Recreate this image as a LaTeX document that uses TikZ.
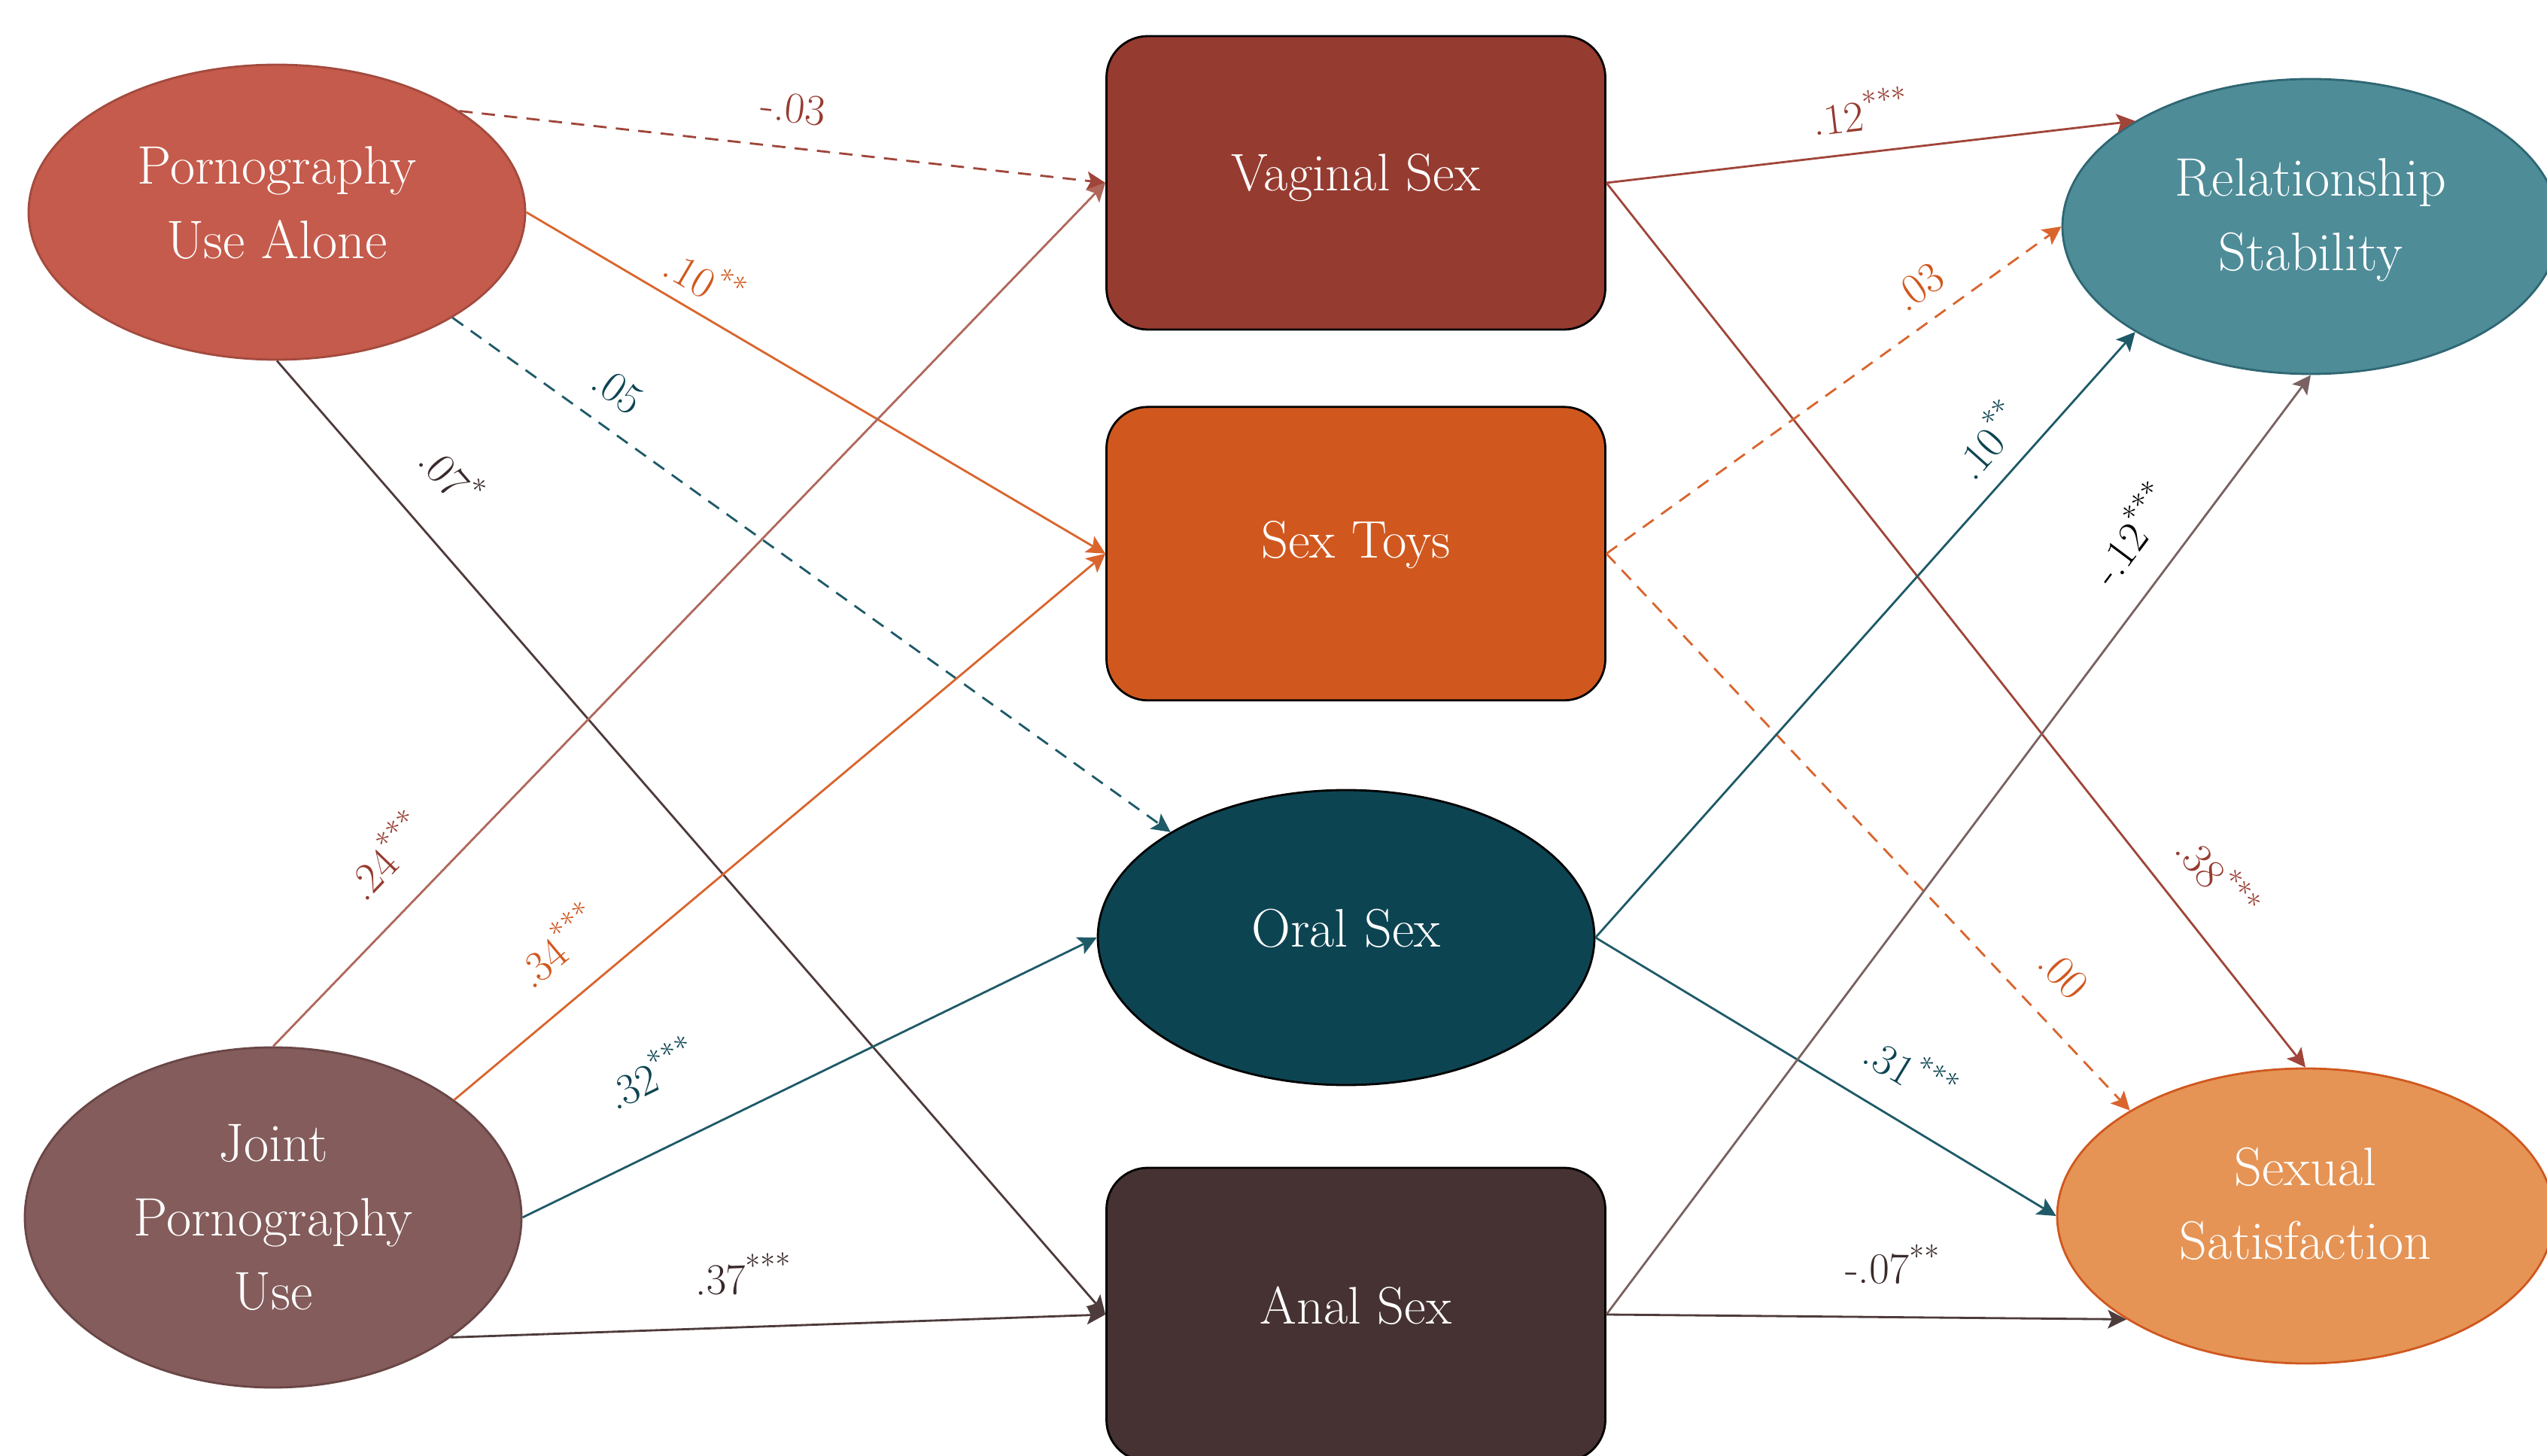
\documentclass[tikz,border=0pt]{standalone}
\usepackage{tikz}
\usepackage{color}
\usetikzlibrary{shapes.geometric,positioning,arrows.meta}

\definecolor{puaFill}{HTML}{C55B4C}
\definecolor{puaLine}{HTML}{A34A3E}
\definecolor{jointFill}{HTML}{845C5C}
\definecolor{jointLine}{HTML}{6A4646}
\definecolor{vagFill}{HTML}{963B30}
\definecolor{toysFill}{HTML}{D0581F}
\definecolor{oralFill}{HTML}{0D4452}
\definecolor{analFill}{HTML}{463232}
\definecolor{relFill}{HTML}{4E8C98}
\definecolor{relLine}{HTML}{2F6773}
\definecolor{satFill}{HTML}{E59455}
\definecolor{satLine}{HTML}{D0581F}
\definecolor{rustLine}{HTML}{A04539}
\definecolor{rustLight}{HTML}{B0675C}
\definecolor{orangeLine}{HTML}{D9652D}
\definecolor{tealLine}{HTML}{1E5A68}
\definecolor{brownLine}{HTML}{4E3B3B}
\definecolor{brownLight}{HTML}{7A6262}
\definecolor{coefDark}{HTML}{3A2A2A}

\begin{document}
\begin{tikzpicture}[->,>={Stealth[length=7pt,width=7pt,inset=1.5pt]},line width=0.8pt,
var/.style={ellipse,draw,text=white,align=center,inner sep=0pt,minimum width=6.6cm,
minimum height=3.92cm,font=\fontsize{20.5}{28}\selectfont},
act/.style={draw=black,rounded corners=0.55cm,text=white,inner sep=0pt,minimum width=6.63cm,
minimum height=3.9cm,font=\fontsize{20}{28}\selectfont},
coef/.style={sloped,inner sep=0pt,font=\fontsize{16.5}{18}\selectfont},
dsh/.style={dash pattern=on 5pt off 3.5pt},]
\useasboundingbox (0,0) rectangle (33.85,-19.35);
\node[var,fill=puaFill,draw=puaLine,text depth=7.5pt](pua) at (3.68,-2.82){Pornography\\Use Alone};
\node[var,fill=jointFill,draw=jointLine,minimum height=4.52cm](joint) at (3.63,-16.18){Joint\\Pornography\\Use};
\node[act,fill=vagFill,text depth=8pt](vag) at (18.02,-2.43){Vaginal Sex};
\node[act,fill=toysFill,below=1cm of vag,text depth=11pt](toys){Sex Toys};
\node[var,fill=oralFill,draw=black,text depth=7pt](oral) at (17.89,-12.46){Oral Sex};
\node[act,fill=analFill,text depth=7pt](anal) at (18.02,-17.47){Anal Sex};
\node[var,fill=relFill,draw=relLine,text depth=9pt](rel) at (30.71,-3.01){Relationship\\Stability};
\node[var,fill=satFill,draw=satLine,text depth=9.5pt](sat) at (30.64,-16.16){Sexual\\Satisfaction};

\path (pua.29) edge[rustLine,dsh] node[coef,above=9pt,pos=.51,text=vagFill]{-.03} (vag.west)
      (pua.east) edge[orangeLine] node[coef,above=5pt,pos=.28,text=toysFill]{.10\textsuperscript{**}} (toys.west)
      (pua.-31) edge[tealLine,dsh] node[coef,above=8pt,pos=.2,text=oralFill]{.05} (oral.149)
      (pua.south) edge[brownLine] node[coef,above=14pt,pos=.16,text=coefDark]{.07\textsuperscript{*}} (anal.west)
      (joint.north) edge[rustLight] node[coef,above=12pt,pos=.18,text=vagFill]{.24\textsuperscript{***}} (vag.west)
      (joint.33.5) edge[orangeLine] node[coef,above=12pt,pos=.21,text=toysFill]{.34\textsuperscript{***}} (toys.west)
      (joint.east) edge[tealLine] node[coef,above=20pt,pos=.28,text=oralFill]{.32\textsuperscript{***}} (oral.west)
      (joint.-34) edge[brownLine] node[coef,above=12pt,pos=.45,text=coefDark]{.37\textsuperscript{***}} (anal.west)
      (vag.east) edge[rustLine] node[coef,above=8pt,pos=.49,text=vagFill]{.12\textsuperscript{***}} (rel.149)
      (vag.east) edge[rustLine] node[coef,above=11pt,pos=.82,text=vagFill]{.38\textsuperscript{***}} (sat.north)
      (toys.east) edge[orangeLine,dsh] node[coef,above=7pt,pos=.73,text=toysFill]{.03} (rel.west)
      (toys.east) edge[orangeLine,dsh] node[coef,above=11pt,pos=.81,text=toysFill]{.00} (sat.149)
      (oral.east) edge[tealLine] node[coef,above=7pt,pos=.78,text=oralFill]{.10\textsuperscript{**}} (rel.211)
      (oral.east) edge[tealLine] node[coef,above=11pt,pos=.63,text=oralFill]{.31\textsuperscript{***}} (sat.west)
      (anal.east) edge[brownLight] node[coef,above=11pt,pos=.8,text=black]{-.12\textsuperscript{***}} (rel.south)
      (anal.east) edge[brownLine] node[coef,above=12pt,pos=.55,text=coefDark]{-.07\textsuperscript{**}} (sat.210)
;
\end{tikzpicture}
\end{document}
